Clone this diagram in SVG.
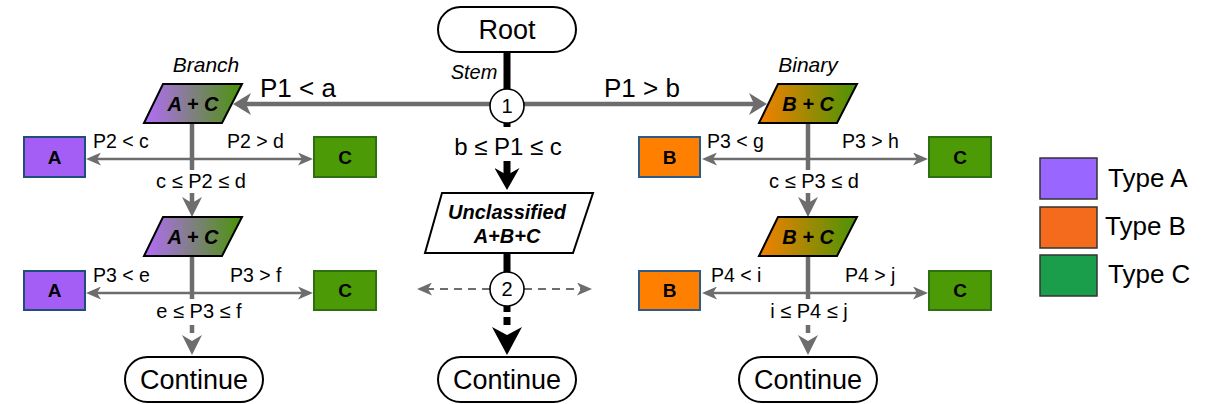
<svg xmlns="http://www.w3.org/2000/svg" width="1209" height="404" viewBox="0 0 1209 404">
<style>
text{font-family:"Liberation Sans",Arial,sans-serif;fill:#000}
.term{fill:#fff;stroke:#000;stroke-width:2}
.term-t{font-size:27px;text-anchor:middle}
.par{stroke:#000;stroke-width:2}
.par-t{font-size:20px;font-weight:bold;font-style:italic;text-anchor:middle}
.unc-t{font-size:20px;font-weight:bold;font-style:italic;text-anchor:middle}
.cap{font-size:21px;font-style:italic;text-anchor:middle}
.stem{font-size:20px;font-style:italic;text-anchor:middle}
.boxA{fill:#a45ef5;stroke:#1f4e79;stroke-width:2}
.boxB{fill:#ff8000;stroke:#2e5a88;stroke-width:2}
.boxC{fill:#4c9a06;stroke:#2d7010;stroke-width:2}
.box-t{font-size:19px;font-weight:bold;text-anchor:middle}
.lbl{font-size:19.5px}
.mid{font-size:20px;text-anchor:middle}
.big-mid{font-size:24px;text-anchor:middle}
.p1{font-size:26px}
.circ{fill:#fff;stroke:#000;stroke-width:1.6}
.circ-t{font-size:20px;text-anchor:middle}
.g-thick{stroke:#6d6d6d;stroke-width:4.5;fill:none}
.g-thin{stroke:#6d6d6d;stroke-width:2.6;fill:none}
.g-dash{stroke:#6d6d6d;stroke-width:2;fill:none;stroke-dasharray:8 6}
.blk{stroke:#000;stroke-width:7;fill:none}
.leg{stroke:#333;stroke-width:1.5}
.leg-t{font-size:26px}
</style>
<defs>
<linearGradient id="gAC" x1="0" y1="0" x2="1" y2="0">
<stop offset="0" stop-color="#b46cfb"/>
<stop offset="1" stop-color="#4a9406"/>
</linearGradient>
<linearGradient id="gBC" x1="0" y1="0" x2="1" y2="0">
<stop offset="0" stop-color="#f58000"/>
<stop offset="1" stop-color="#4a9406"/>
</linearGradient>
<marker id="hBig" markerUnits="userSpaceOnUse" markerWidth="18" markerHeight="22" viewBox="0 0 18 22" refX="6" refY="11" orient="auto"><path d="M0,0 L18,11 L0,22 L5,11 z" fill="#6d6d6d"/></marker>
<marker id="hMid" markerUnits="userSpaceOnUse" markerWidth="20" markerHeight="20" viewBox="0 0 20 20" refX="7" refY="10" orient="auto"><path d="M0,0 L20,10 L0,20 L6,10 z" fill="#6d6d6d"/></marker>
<marker id="hSm" markerUnits="userSpaceOnUse" markerWidth="15" markerHeight="13" viewBox="0 0 15 13" refX="5" refY="6.5" orient="auto"><path d="M0,0 L15,6.5 L0,13 L4,6.5 z" fill="#6d6d6d"/></marker>
<marker id="hBlkS" markerUnits="userSpaceOnUse" markerWidth="22" markerHeight="25" viewBox="0 0 22 25" refX="8" refY="12.5" orient="auto"><path d="M0,0 L22,12.5 L0,25 L7,12.5 z" fill="#000"/></marker>
<marker id="hBlkL" markerUnits="userSpaceOnUse" markerWidth="28" markerHeight="30" viewBox="0 0 28 30" refX="9" refY="15" orient="auto"><path d="M0,0 L28,15 L0,30 L8,15 z" fill="#000"/></marker>
</defs>

<g id="connectors">
<line class="blk" x1="507" y1="52" x2="507" y2="90"/>
<line class="blk" x1="507" y1="122" x2="507" y2="127"/>
<line class="blk" x1="507" y1="161" x2="507" y2="176" marker-end="url(#hBlkS)"/>
<line class="blk" x1="507" y1="253" x2="507" y2="273"/>
<line class="blk" x1="507" y1="305" x2="507" y2="336" stroke-dasharray="7 5 8 100" marker-end="url(#hBlkL)"/>
<line class="g-thick" x1="491" y1="104" x2="245" y2="104" marker-end="url(#hBig)"/>
<line class="g-thick" x1="523" y1="104" x2="755" y2="104" marker-end="url(#hBig)"/>
<line class="g-dash" x1="490" y1="289" x2="427" y2="289" marker-end="url(#hSm)"/>
<line class="g-dash" x1="524" y1="289" x2="582" y2="289" marker-end="url(#hSm)"/>
<line class="g-thick" x1="192" y1="123" x2="192" y2="170"/>
<line class="g-thick" x1="192" y1="193" x2="192" y2="204" marker-end="url(#hMid)"/>
<line class="g-thin" x1="192" y1="159" x2="96" y2="159" marker-end="url(#hSm)"/>
<line class="g-thin" x1="192" y1="159" x2="303" y2="159" marker-end="url(#hSm)"/>
<line class="g-thick" x1="192" y1="256" x2="192" y2="299"/>
<line class="g-thick" x1="192" y1="325" x2="192" y2="342" stroke-dasharray="8 20" marker-end="url(#hMid)"/>
<line class="g-thin" x1="192" y1="293" x2="96" y2="293" marker-end="url(#hSm)"/>
<line class="g-thin" x1="192" y1="293" x2="303" y2="293" marker-end="url(#hSm)"/>
<line class="g-thick" x1="808" y1="123" x2="808" y2="170"/>
<line class="g-thick" x1="808" y1="193" x2="808" y2="204" marker-end="url(#hMid)"/>
<line class="g-thin" x1="808" y1="159" x2="712" y2="159" marker-end="url(#hSm)"/>
<line class="g-thin" x1="808" y1="159" x2="918" y2="159" marker-end="url(#hSm)"/>
<line class="g-thick" x1="808" y1="256" x2="808" y2="299"/>
<line class="g-thick" x1="808" y1="325" x2="808" y2="342" stroke-dasharray="8 20" marker-end="url(#hMid)"/>
<line class="g-thin" x1="808" y1="293" x2="712" y2="293" marker-end="url(#hSm)"/>
<line class="g-thin" x1="808" y1="293" x2="918" y2="293" marker-end="url(#hSm)"/>
</g>

<g id="labels">
<text class="stem" x="474" y="79">Stem</text>
<text class="p1" x="260" y="97">P1 &lt; a</text>
<text class="p1" x="604" y="97">P1 &gt; b</text>
<text class="big-mid" x="508" y="155">b ≤ P1 ≤ c</text>
<text class="lbl" x="93" y="148">P2 &lt; c</text>
<text class="lbl" x="227" y="148">P2 &gt; d</text>
<text class="mid" x="201" y="188">c ≤ P2 ≤ d</text>
<text class="lbl" x="93" y="282">P3 &lt; e</text>
<text class="lbl" x="230" y="282">P3 &gt; f</text>
<text class="mid" x="199" y="318">e ≤ P3 ≤ f</text>
<text class="lbl" x="707" y="148">P3 &lt; g</text>
<text class="lbl" x="842" y="148">P3 &gt; h</text>
<text class="mid" x="814" y="188">c ≤ P3 ≤ d</text>
<text class="lbl" x="711" y="282">P4 &lt; i</text>
<text class="lbl" x="845" y="282">P4 &gt; j</text>
<text class="mid" x="809" y="318">i ≤ P4 ≤ j</text>
</g>

<g id="root"><rect class="term" x="438" y="7" width="138" height="45" rx="22.5"/><text class="term-t" x="507" y="39">Root</text></g>
<g id="node1"><circle class="circ" cx="507" cy="106" r="17"/><text class="circ-t" x="507" y="113">1</text></g>
<g id="node2"><circle class="circ" cx="507" cy="289" r="17"/><text class="circ-t" x="507" y="296">2</text></g>
<g id="unclassified"><path d="M442,193 L593,193 L573,253 L425,253 Z" fill="#fff" stroke="#000" stroke-width="2"/>
<text class="unc-t" x="507" y="219">Unclassified</text><text class="unc-t" x="507" y="243">A+B+C</text></g>

<g id="branch"><text class="cap" x="206" y="72">Branch</text><path class="par" d="M163,84 L242,84 L222,123 L144,123 Z" fill="url(#gAC)"/><text class="par-t" x="193" y="111">A + C</text></g>
<g id="branch2"><path class="par" d="M163,217 L242,217 L222,256 L144,256 Z" fill="url(#gAC)"/><text class="par-t" x="193" y="244">A + C</text></g>
<g id="binary"><text class="cap" x="808" y="72">Binary</text><path class="par" d="M778,84 L857,84 L837,123 L759,123 Z" fill="url(#gBC)"/><text class="par-t" x="808" y="111">B + C</text></g>
<g id="binary2"><path class="par" d="M778,217 L857,217 L837,256 L759,256 Z" fill="url(#gBC)"/><text class="par-t" x="808" y="244">B + C</text></g>

<g id="a1"><rect class="boxA" x="24" y="137" width="61" height="40"/><text class="box-t" x="54.5" y="164">A</text></g>
<g id="c1"><rect class="boxC" x="314" y="137" width="62" height="40"/><text class="box-t" x="345" y="164">C</text></g>
<g id="a2"><rect class="boxA" x="24" y="271" width="61" height="39"/><text class="box-t" x="54.5" y="297">A</text></g>
<g id="c2"><rect class="boxC" x="314" y="271" width="62" height="39"/><text class="box-t" x="345" y="297">C</text></g>
<g id="b1"><rect class="boxB" x="639" y="137" width="61" height="40"/><text class="box-t" x="669.5" y="164">B</text></g>
<g id="c3"><rect class="boxC" x="929" y="137" width="62" height="40"/><text class="box-t" x="960" y="164">C</text></g>
<g id="b2"><rect class="boxB" x="639" y="271" width="61" height="39"/><text class="box-t" x="669.5" y="297">B</text></g>
<g id="c4"><rect class="boxC" x="929" y="271" width="62" height="39"/><text class="box-t" x="960" y="297">C</text></g>

<g id="cont1"><rect class="term" x="125" y="357" width="138" height="45" rx="22.5"/><text class="term-t" x="194" y="389">Continue</text></g>
<g id="cont2"><rect class="term" x="438" y="357" width="138" height="45" rx="22.5"/><text class="term-t" x="507" y="389">Continue</text></g>
<g id="cont3"><rect class="term" x="739" y="357" width="138" height="45" rx="22.5"/><text class="term-t" x="808" y="389">Continue</text></g>

<g id="legend">
<rect class="leg" x="1040" y="158" width="57" height="41" fill="#9966ff"/><text class="leg-t" x="1108" y="187">Type A</text>
<rect class="leg" x="1040" y="207" width="57" height="41" fill="#f46b1d"/><text class="leg-t" x="1105" y="235">Type B</text>
<rect class="leg" x="1040" y="255" width="57" height="41" fill="#1a9e4b"/><text class="leg-t" x="1108" y="283">Type C</text>
</g>
</svg>
